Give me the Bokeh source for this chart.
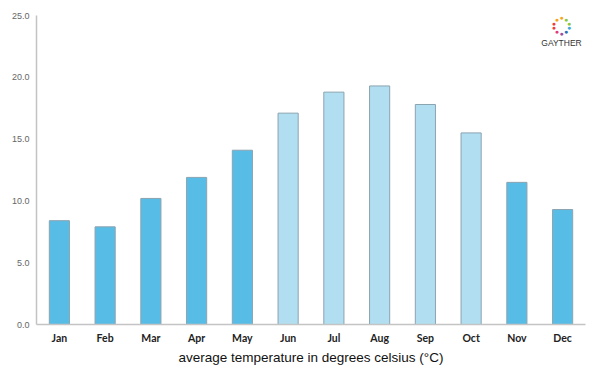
from bokeh.plotting import figure
from bokeh.models import ColumnDataSource, Range1d, Label, FixedTicker, NumeralTickFormatter
from bokeh.embed import file_html
from bokeh.resources import INLINE
import math

months = ["Jan", "Feb", "Mar", "Apr", "May", "Jun", "Jul", "Aug", "Sep", "Oct", "Nov", "Dec"]
temps = [8.4, 7.9, 10.2, 11.9, 14.1, 17.1, 18.8, 19.3, 17.8, 15.5, 11.5, 9.3]
season = ["cool", "cool", "cool", "cool", "cool", "warm", "warm", "warm", "warm", "warm", "cool", "cool"]
y_ticks = [0, 5, 10, 15, 20, 25]

palette = {"cool": "#58bde6", "warm": "#b1dff1"}
colors = [palette[s] for s in season]

src = ColumnDataSource(dict(month=months, temp=temps, color=colors))

p = figure(x_range=months, width=600, height=375, output_backend="svg",
           toolbar_location=None, min_border_left=36, min_border_right=15,
           min_border_top=15, min_border_bottom=51)
p.y_range = Range1d(0, 25)
p.x_range.range_padding = 0

p.vbar(x="month", top="temp", width=0.44, source=src, fill_color="color",
       line_color="#8aa3b0", line_width=1)

p.outline_line_color = None
p.xgrid.grid_line_color = None
p.ygrid.grid_line_color = None
p.background_fill_color = "white"

p.yaxis.ticker = FixedTicker(ticks=y_ticks)
p.yaxis.formatter = NumeralTickFormatter(format="0.0")
for ax in (p.xaxis[0], p.yaxis[0]):
    ax.axis_line_color = "#c4c4c4"
    ax.axis_line_width = 1.5
    ax.major_tick_line_color = None
    ax.minor_tick_line_color = None
    ax.major_tick_out = 0
    ax.major_tick_in = 0
    ax.minor_tick_out = 0
    ax.minor_tick_in = 0

p.yaxis.major_label_text_font = "Liberation Sans"
p.yaxis.major_label_text_font_size = "9px"
p.yaxis.major_label_text_color = "#666666"
p.yaxis.major_label_standoff = 7

p.xaxis.major_label_text_font = "Lato"
p.xaxis.major_label_text_font_style = "bold"
p.xaxis.major_label_text_font_size = "10.5px"
p.xaxis.major_label_text_color = "#222222"
p.xaxis.major_label_standoff = 7

p.xaxis.axis_label = "average temperature in degrees celsius (°C)"
p.xaxis.axis_label_text_font = "Liberation Sans"
p.xaxis.axis_label_text_font_style = "normal"
p.xaxis.axis_label_text_font_size = "13.5px"
p.xaxis.axis_label_text_color = "#111111"
p.xaxis.axis_label_standoff = 3

# logo (decoration), screen units relative to the plot frame
ring = ["#f2a81d", "#8cc63f", "#8cc63f", "#3aa9d9", "#2a6fb5", "#9b4fa0",
        "#e23a7b", "#ed3e3b", "#ed3e3b", "#f6a21a"]
cx, cy, r = 525, 299, 8
for i, c in enumerate(ring):
    a = math.pi / 2 - i * 2 * math.pi / len(ring)
    p.add_layout(Label(x=cx + r * math.cos(a), y=cy + r * math.sin(a), x_units="screen",
                       y_units="screen", text="●", text_color=c, text_font_size="7px",
                       text_align="center", text_baseline="middle"))
p.add_layout(Label(x=cx, y=282, x_units="screen", y_units="screen", text="GAYTHER",
                   text_font="Liberation Sans", text_font_size="8.5px", text_color="#333333",
                   text_align="center", text_baseline="middle"))

open("out.html", "w").write(file_html(p, INLINE))
